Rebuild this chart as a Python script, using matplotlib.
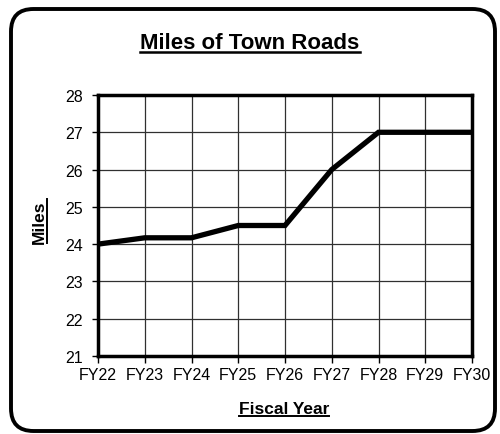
import matplotlib
matplotlib.use('Agg')
import matplotlib.pyplot as plt
from matplotlib.patches import FancyBboxPatch
from matplotlib.lines import Line2D

plt.rcParams['font.family'] = ['Liberation Sans', 'DejaVu Sans']

years = ['FY22', 'FY23', 'FY24', 'FY25', 'FY26', 'FY27', 'FY28', 'FY29', 'FY30']
miles = [24.0, 24.17, 24.17, 24.5, 24.5, 26.0, 27.0, 27.0, 27.0]

W, H = 500, 435
fig = plt.figure(figsize=(5, 4.35), dpi=100)

# rounded outer frame
frame = FancyBboxPatch((11 / W, 3 / H), 484 / W, 422 / H,
                       boxstyle='round,pad=0,rounding_size=0.045',
                       transform=fig.transFigure, fill=False,
                       edgecolor='black', linewidth=2.8, mutation_aspect=W / H)
fig.patches.append(frame)

ax = fig.add_axes([98 / W, 1 - 357 / H, 374 / W, 261 / H])
x = list(range(len(years)))
ax.plot(x, miles, color='black', linewidth=3.8, solid_joinstyle='miter', zorder=3)

ax.set_xlim(0, len(years) - 1)
ax.set_ylim(21, 28)
ax.set_xticks(x)
ax.set_xticklabels(years, fontsize=11.5)
ax.set_yticks(range(21, 29))
ax.tick_params(axis='y', labelsize=11.5, length=4, width=1, pad=7)
ax.tick_params(axis='x', length=5, width=1, pad=3)
ax.grid(True, color='#303030', linewidth=0.9)
for s in ax.spines.values():
    s.set_linewidth(2.5)

t1 = fig.text(250 / W, 1 - 49 / H, 'Miles of Town Roads', ha='center', va='baseline',
              fontsize=16, fontweight='bold')
t2 = fig.text(284 / W, 1 - 414 / H, 'Fiscal Year', ha='center', va='baseline',
              fontsize=12.5, fontweight='bold')
t3 = fig.text(44 / W, 1 - 222 / H, 'Miles', ha='center', va='baseline', rotation=90,
              rotation_mode='anchor', fontsize=12.5, fontweight='bold')

# underline the three bold labels
fig.canvas.draw()
r = fig.canvas.get_renderer()
for t, yy, lw in ((t1, 52.5, 1.8), (t2, 416.5, 1.4)):
    bb = t.get_window_extent(r)
    fig.lines.append(Line2D([bb.x0 / W, bb.x1 / W], [1 - yy / H, 1 - yy / H],
                            transform=fig.transFigure, color='black', linewidth=lw))
bb = t3.get_window_extent(r)
xx = 47
fig.lines.append(Line2D([xx / W, xx / W], [bb.y0 / H, bb.y1 / H],
                        transform=fig.transFigure, color='black', linewidth=1.4))

fig.savefig('out.png', dpi=100)
